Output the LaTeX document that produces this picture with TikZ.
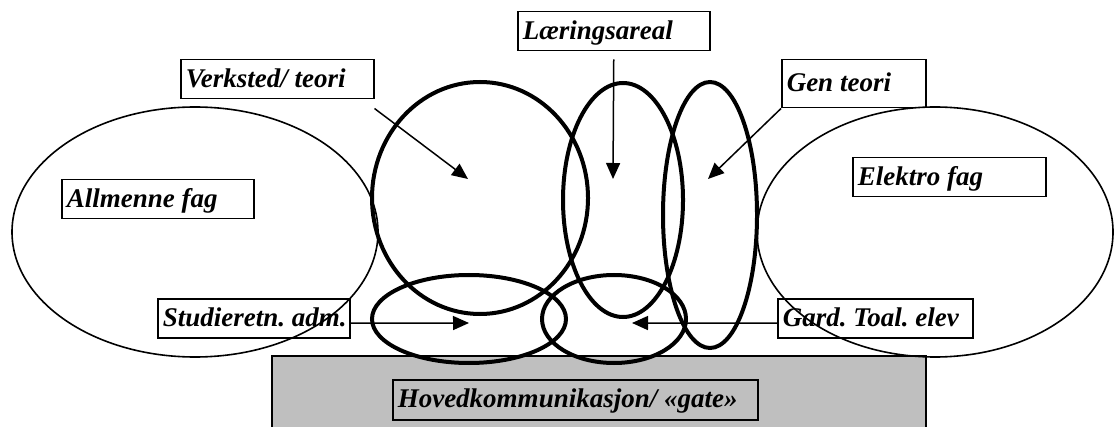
\documentclass[tikz,border=0pt]{standalone}
\usepackage{fontspec}
\setmainfont{Liberation Serif}
\usetikzlibrary{arrows.meta}
\newcommand{\lbltext}[2]{\makebox[#1][l]{#2}}
\begin{document}
\frenchspacing
\begin{tikzpicture}[x=1pt,y=-1pt,
  thinell/.style={draw, line width=1.6pt},
  thickell/.style={draw, line width=4pt},
  lbl/.style={draw, line width=1.5pt, anchor=north west, inner xsep=5pt, inner ysep=0pt,
    text height=21pt, text depth=5pt, minimum height=39pt,
    font=\bfseries\itshape\fontsize{27}{30}\selectfont},
  arr/.style={line width=1.5pt, -{Triangle[length=16pt,width=14pt]}}]
\useasboundingbox (0,0) rectangle (1115,427);
\fill[white] (0,0) rectangle (1115,427);
% main communication band
\draw[fill=black!25, line width=1.2pt] (272,356) rectangle (926,440);
% thin ellipses
\draw[thinell] (195,232) ellipse [x radius=183pt, y radius=125pt];
\draw[thinell] (935,232) ellipse [x radius=178pt, y radius=125pt];
% thick shapes
\draw[thickell] (480,198) ellipse [x radius=108pt, y radius=116pt];
\draw[thickell] (623,200) ellipse [x radius=60pt, y radius=117pt];
\draw[thickell] (710,215) ellipse [x radius=47pt, y radius=133pt];
\draw[thickell] (469,319) ellipse [x radius=97pt, y radius=44pt];
\draw[thickell] (614,319) ellipse [x radius=72pt, y radius=44pt];
% labels
\node[lbl] (laer) at (517,11) {\lbltext{182pt}{Læringsareal}};
\node[lbl] (verk) at (180,59) {\lbltext{183pt}{Verksted/ teori}};
\node[lbl, minimum height=48pt] (gen) at (781,59) {\lbltext{134pt}{Gen teori}};
\node[lbl] (allm) at (61,179) {\lbltext{182pt}{Allmenne fag}};
\node[lbl] (elek) at (852,157) {\lbltext{183pt}{Elektro fag}};
\node[lbl] (stud) at (157,298) {\lbltext{182pt}{Studieretn. adm.}};
\node[lbl] (gard) at (777,298) {\lbltext{185pt}{Gard. Toal. elev}};
\node[lbl, fill=black!25, minimum height=40pt] (hoved) at (392,379) {\lbltext{355pt}{Hovedkommunikasjon/ «gate»}};
% arrow targets
\coordinate (tV) at (468,179);
\coordinate (tL) at (613,179);
\coordinate (tG) at (708,179);
\coordinate (tS) at (469,323);
\coordinate (tT) at (632,323);
% arrows
\draw[arr] ([yshift=-9pt]verk.south east) -- (tV);
\draw[arr] ([yshift=-8pt]laer.south) -- (tL);
\draw[arr] (gen.south west) -- (tG);
\draw[arr] ([yshift=-5pt]stud.east) -- (tS);
\draw[arr] ([yshift=-5pt]gard.west) -- (tT);
\end{tikzpicture}
\end{document}
